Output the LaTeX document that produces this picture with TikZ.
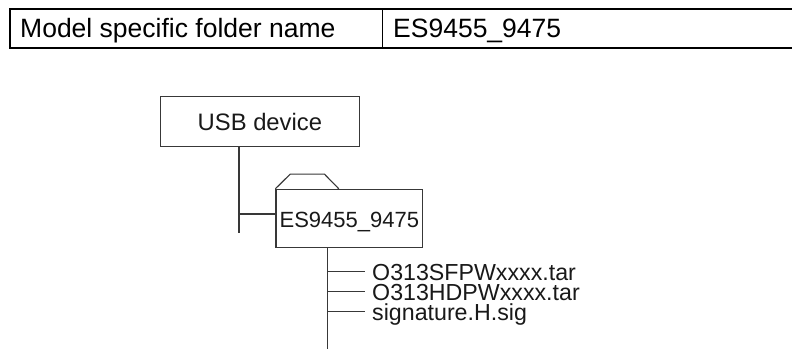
\documentclass[tikz,border=0pt]{standalone}
\usepackage{fontspec}
\setmainfont{Liberation Sans}
\begin{document}
\begin{tikzpicture}[x=1pt,y=-1pt,
  tline/.style={line width=2.4pt,draw=black},
  divline/.style={line width=0.9pt,draw=black},
  conn/.style={line width=1.1pt,draw=black!78},
  boxnode/.style={draw=black!78,line width=1.1pt,inner sep=0pt,text=black!90},
  celltext/.style={anchor=base west,inner sep=0pt,text=black,font=\fontsize{26.5}{30}\selectfont},
  filetext/.style={anchor=west,inner sep=0pt,text=black!90,font=\fontsize{23.2}{26}\selectfont,text height=16.6pt,text depth=0pt}
]
\useasboundingbox (0,0) rectangle (792,351);
% header table
\draw[tline] (800,9) -- (10,9) -- (10,48) -- (800,48);
\draw[divline] (382.3,9) -- (382.3,48);
\node[celltext] (lbl) at (20,37) {Model specific folder name};
\node[celltext] (val) at (393,37) {ES9455\_9475};
% tree
\node[boxnode,minimum width=198.3pt,minimum height=50pt,font=\fontsize{23.8}{28}\selectfont,text height=17pt,text depth=0pt] (usb) at (259.9,121.7) {USB device};
\node[boxnode,minimum width=146.7pt,minimum height=58pt,font=\fontsize{22}{26}\selectfont,text height=15.8pt,text depth=0pt] (folder) at (349.35,218.3) {\raisebox{-1.6pt}{ES9455\_9475}};
\draw[conn,line join=miter] (folder.north west) -- ++(14.7,-14.6) -- ++(34.3,0) -- ++(14.3,14.6);
\coordinate (t1end) at (239,232.7);
\coordinate (b1) at (239,214);
\draw[conn] (usb.south -| t1end) -- (t1end);
\draw[conn] (b1) -- (b1 -| folder.west);
\coordinate (t2end) at (327.7,348.5);
\draw[conn] (folder.south -| t2end) -- (t2end);
\node[filetext] (f1) at (372,271.7) {O313SFPWxxxx.tar};
\node[filetext] (f2) at (372,291.7) {O313HDPWxxxx.tar};
\node[filetext] (f3) at (372,311.7) {signature.H.sig};
\foreach \f in {f1,f2,f3}
  \draw[conn] (\f.west -| t2end) -- ([xshift=-7pt]\f.west);
\end{tikzpicture}
\end{document}
